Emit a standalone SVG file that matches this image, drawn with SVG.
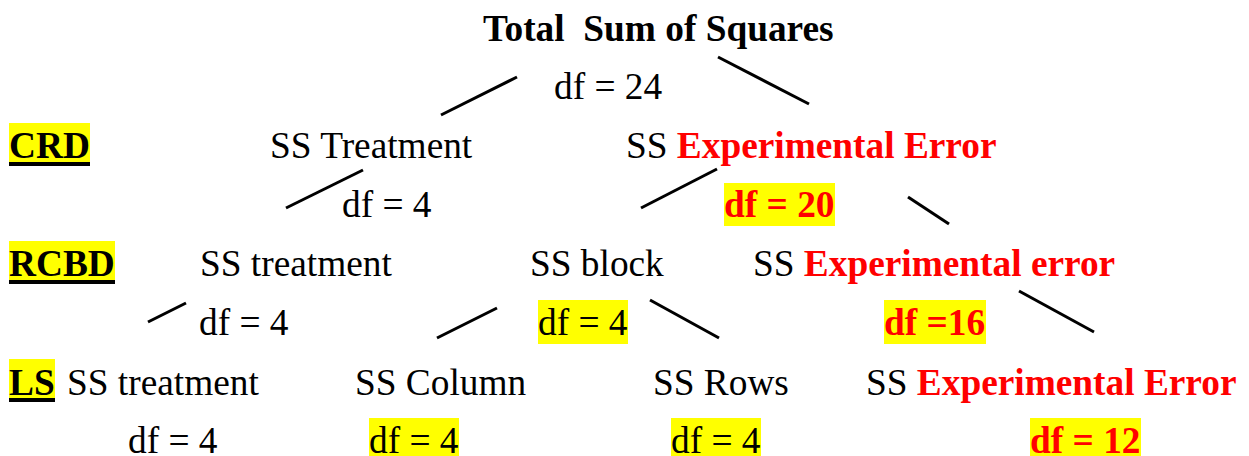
<svg xmlns="http://www.w3.org/2000/svg" width="1249" height="456" viewBox="0 0 1249 456">
<style>
text{font-family:"Liberation Serif","Times New Roman",serif;font-size:37.33px;fill:#000}
.b{font-weight:bold}
.red{fill:#ff0000;font-weight:bold}
.hl{fill:#ffff00}
.ul{fill:#000}
.conn line{stroke:#000;stroke-width:3;stroke-linecap:butt}
</style>
<rect width="1249" height="456" fill="#ffffff"/>
<g id="connectors" class="conn">
<line x1="441" y1="115" x2="517" y2="77"/>
<line x1="718" y1="57" x2="809" y2="104"/>
<line x1="286" y1="208" x2="363" y2="170"/>
<line x1="641" y1="208" x2="717" y2="169"/>
<line x1="908" y1="197" x2="949" y2="224"/>
<line x1="148" y1="322" x2="186" y2="303"/>
<line x1="437" y1="338" x2="497" y2="308"/>
<line x1="650" y1="300" x2="719" y2="338"/>
<line x1="1019" y1="291" x2="1094" y2="332"/>
</g>
<g id="total">
<text x="483" y="41" class="b" xml:space="preserve">Total  Sum of Squares</text>
<text x="554" y="99">df = 24</text>
</g>
<g id="label-crd">
<rect class="hl" x="9" y="123" width="81" height="40"/>
<rect class="ul" x="9" y="162" width="81" height="4"/>
<text x="9" y="158" class="b">CRD</text>
</g>
<g id="crd-treatment">
<text x="270" y="158">SS Treatment</text>
<text x="342" y="217">df = 4</text>
</g>
<g id="crd-error">
<text x="626" y="158">SS <tspan class="red">Experimental Error</tspan></text>
<rect class="hl" x="724" y="183" width="111" height="43"/>
<text x="724" y="217" class="red">df = 20</text>
</g>
<g id="label-rcbd">
<rect class="hl" x="9" y="241" width="106" height="40"/>
<rect class="ul" x="9" y="280" width="106" height="4"/>
<text x="9" y="276" class="b">RCBD</text>
</g>
<g id="rcbd-treatment">
<text x="200" y="276">SS treatment</text>
<text x="199" y="335">df = 4</text>
</g>
<g id="rcbd-block">
<text x="530" y="276">SS block</text>
<rect class="hl" x="538" y="300" width="90" height="44"/>
<text x="538" y="335">df = 4</text>
</g>
<g id="rcbd-error">
<text x="753" y="276">SS <tspan class="red">Experimental error</tspan></text>
<rect class="hl" x="884" y="300" width="102" height="44"/>
<text x="884" y="335" class="red">df =16</text>
</g>
<g id="label-ls">
<rect class="hl" x="9" y="359" width="46" height="40"/>
<rect class="ul" x="9" y="398" width="46" height="4"/>
<text x="9" y="395" class="b">LS</text>
</g>
<g id="ls-treatment">
<text x="67" y="395">SS treatment</text>
<text x="128" y="453">df = 4</text>
</g>
<g id="ls-column">
<text x="355" y="395">SS Column</text>
<rect class="hl" x="369" y="418" width="90" height="38"/>
<text x="369" y="453">df = 4</text>
</g>
<g id="ls-rows">
<text x="653" y="395">SS Rows</text>
<rect class="hl" x="671" y="418" width="90" height="38"/>
<text x="671" y="453">df = 4</text>
</g>
<g id="ls-error">
<text x="866" y="395">SS <tspan class="red">Experimental Error</tspan></text>
<rect class="hl" x="1030" y="418" width="111" height="38"/>
<text x="1030" y="453" class="red">df = 12</text>
</g>
</svg>
